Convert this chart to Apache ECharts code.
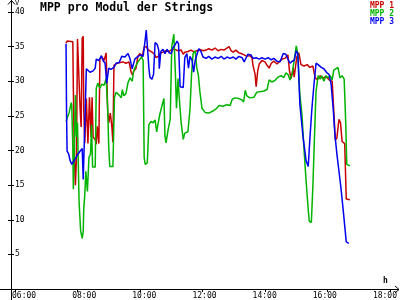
<!DOCTYPE html>
<html>
<head>
<meta charset="utf-8">
<script src="https://cdn.jsdelivr.net/npm/echarts@6/dist/echarts.min.js"></script>
<style>html,body{margin:0;padding:0;background:#fff}#c{width:400px;height:300px}</style>
</head>
<body>
<div id="c"></div>
<script>
const titleText = "MPP pro Modul der Strings";
const seriesNames = ["MPP 1", "MPP 2", "MPP 3"];
const seriesColors = ["#c80000", "#00b400", "#0000f0"];
const xTicks = [6, 8, 10, 12, 14, 16, 18];
const yTicks = [0, 5, 10, 15, 20, 25, 30, 35, 40];

const mpp1Times = ["7:38","7:40","7:51","7:52","7:54","7:56","7:58","8:00","8:03","8:05","8:07","8:09","8:11","8:12","8:14","8:17","8:20","8:23","8:26","8:28","8:30","8:34","8:36","8:38","8:41","8:43","8:47","8:51","8:55","8:58","9:00","9:03","9:06","9:08","9:10","9:16","9:22","9:27","9:33","9:39","9:43","9:46","9:48","9:52","9:56","10:00","10:04","10:08","10:12","10:15","10:19","10:23","10:27","10:31","10:35","10:38","10:44","10:50","10:56","11:01","11:07","11:13","11:19","11:23","11:26","11:32","11:38","11:44","11:49","11:55","12:01","12:07","12:12","12:18","12:24","12:30","12:36","12:41","12:47","12:51","12:55","12:59","13:04","13:10","13:14","13:20","13:25","13:31","13:35","13:37","13:41","13:43","13:46","13:49","13:54","14:00","14:04","14:08","14:12","14:17","14:23","14:27","14:33","14:38","14:44","14:47","14:50","14:54","14:56","15:01","15:05","15:09","15:15","15:21","15:26","15:32","15:36","15:40","15:46","15:51","15:57","16:03","16:09","16:12","16:15","16:18","16:22","16:25","16:28","16:33","16:36","16:43"];
const mpp1Values = [35.5,35.8,35.7,29.0,19.5,15.0,19.0,36.1,35.9,26.0,23.4,36.2,36.5,26.0,21.1,27.5,21.0,27.7,22.0,27.7,21.9,21.6,20.9,23.5,21.0,33.2,33.5,33.0,34.1,25.6,24.0,25.4,23.4,21.2,32.3,32.6,32.7,32.8,32.6,32.8,31.3,30.9,31.5,31.8,33.6,34.0,33.5,34.9,35.0,34.6,34.4,34.2,34.0,33.4,33.6,34.0,34.2,34.4,34.3,34.6,34.6,34.4,34.5,33.9,34.2,34.3,34.5,34.2,34.4,34.6,34.4,34.5,34.7,34.5,34.8,34.4,34.6,34.5,34.8,35.0,34.4,34.2,34.5,34.1,34.0,33.8,33.6,33.7,33.4,32.3,31.0,29.2,31.5,32.5,33.0,32.8,32.3,31.9,32.6,32.9,32.5,32.8,33.2,33.3,33.8,31.5,30.4,31.9,30.6,33.5,34.1,32.4,32.2,32.4,32.0,32.2,30.6,30.2,30.8,30.4,30.7,30.2,30.0,29.8,21.5,21.8,24.5,24.0,21.3,21.0,13.0,12.9];

const mpp2Times = ["7:38","7:40","7:44","7:48","7:49","7:51","7:52","7:54","7:56","7:58","8:00","8:03","8:06","8:09","8:11","8:12","8:14","8:16","8:19","8:22","8:25","8:27","8:29","8:34","8:36","8:39","8:43","8:47","8:51","8:55","8:58","9:00","9:02","9:08","9:11","9:14","9:20","9:24","9:26","9:29","9:33","9:37","9:41","9:45","9:48","9:52","9:56","10:00","10:03","10:06","10:08","10:10","10:14","10:17","10:21","10:25","10:29","10:32","10:35","10:38","10:42","10:46","10:48","10:50","10:54","10:58","11:01","11:05","11:08","11:10","11:13","11:15","11:19","11:23","11:26","11:32","11:36","11:39","11:42","11:46","11:49","11:52","11:55","11:59","12:05","12:12","12:20","12:26","12:32","12:39","12:47","12:53","12:57","13:02","13:10","13:16","13:19","13:22","13:25","13:31","13:39","13:44","13:50","13:58","14:04","14:08","14:13","14:19","14:25","14:31","14:36","14:40","14:44","14:48","14:52","14:56","15:00","15:03","15:07","15:11","15:15","15:19","15:23","15:25","15:29","15:32","15:35","15:38","15:42","15:46","15:49","15:53","15:57","16:01","16:05","16:09","16:12","16:16","16:20","16:24","16:28","16:32","16:35","16:37","16:43"];
const mpp2Values = [24.2,24.0,25.5,26.9,26.5,20.6,14.4,20.0,28.0,22.0,24.0,12.6,8.4,7.3,8.3,11.5,13.7,17.0,14.1,19.0,19.5,23.7,17.6,17.6,29.0,29.7,29.0,29.6,29.4,30.4,26.0,20.4,17.7,17.7,27.7,28.4,28.0,27.6,28.8,27.9,28.2,29.8,30.5,30.0,31.5,32.2,32.8,33.2,33.5,33.0,19.0,18.0,18.2,23.7,24.2,24.0,24.4,22.7,24.0,25.2,26.4,27.5,22.0,21.1,23.0,24.5,35.0,36.8,31.0,26.1,30.4,28.0,24.0,21.6,22.5,22.7,26.0,31.0,34.0,34.4,32.0,30.9,28.5,26.1,25.5,25.4,25.7,26.0,26.5,26.4,26.6,26.5,27.4,27.6,27.5,27.3,27.0,28.7,27.9,27.6,27.7,28.4,28.5,28.6,28.8,30.2,29.9,30.1,30.6,30.8,30.5,31.2,31.0,30.2,31.0,33.0,35.1,34.0,28.0,25.2,20.0,15.5,11.5,9.8,9.6,15.0,22.0,28.5,30.8,30.3,30.8,30.0,30.8,30.5,30.8,30.2,31.6,31.8,32.0,30.5,30.8,30.3,24.0,18.0,17.8];

const mpp3Times = ["7:38","7:39","7:40","7:43","7:46","7:49","7:55","8:01","8:09","8:11","8:13","8:17","8:20","8:24","8:30","8:34","8:36","8:41","8:46","8:49","8:53","8:56","8:58","9:00","9:04","9:10","9:14","9:20","9:25","9:31","9:37","9:41","9:45","9:48","9:50","9:56","10:02","10:06","10:10","10:12","10:15","10:17","10:19","10:23","10:26","10:29","10:33","10:36","10:37","10:40","10:44","10:48","10:52","10:56","11:00","11:03","11:07","11:11","11:14","11:17","11:23","11:26","11:30","11:33","11:36","11:40","11:43","11:46","11:49","11:53","11:57","12:01","12:07","12:12","12:18","12:24","12:30","12:36","12:41","12:47","12:53","12:59","13:04","13:10","13:16","13:20","13:24","13:27","13:33","13:37","13:43","13:49","13:54","14:00","14:06","14:12","14:17","14:23","14:29","14:35","14:40","14:44","14:48","14:52","14:56","15:00","15:03","15:07","15:13","15:19","15:23","15:26","15:30","15:34","15:38","15:42","15:48","15:53","15:59","16:03","16:07","16:11","16:14","16:18","16:22","16:26","16:30","16:34","16:36","16:41"];
const mpp3Values = [35.4,25.4,19.9,19.5,18.5,18.0,18.7,19.5,20.3,15.8,15.9,31.8,31.8,31.3,31.5,31.9,33.2,33.0,33.7,33.0,32.6,29.7,29.9,31.9,31.7,32.0,32.6,32.7,33.6,33.5,34.0,33.2,31.8,31.6,33.2,33.6,33.8,33.6,36.0,37.4,37.2,32.0,30.6,30.3,31.0,35.6,35.3,34.5,31.8,34.3,34.6,34.0,34.6,34.1,34.0,34.8,35.2,35.8,35.4,29.2,29.1,33.4,34.0,31.9,33.6,33.0,31.3,33.0,33.8,34.7,34.3,33.5,33.3,33.6,33.2,33.5,33.3,33.6,33.2,33.5,33.3,33.5,33.2,33.6,33.4,32.8,33.4,33.9,33.8,33.3,33.4,33.2,33.4,33.2,33.4,33.1,33.3,32.9,32.8,34.0,33.9,33.2,32.6,32.9,33.0,34.4,34.0,26.6,22.0,18.5,17.7,21.5,26.0,29.5,32.6,32.4,32.0,31.8,31.2,31.0,29.5,26.0,22.5,19.5,17.0,14.5,11.5,8.4,6.8,6.6];

function toHours(s) { const p = s.split(":"); return +p[0] + (+p[1]) / 60; }
function pairs(times, values) { return times.map((t, i) => [toHours(t), values[i]]); }
const seriesData = [pairs(mpp1Times, mpp1Values), pairs(mpp2Times, mpp2Values), pairs(mpp3Times, mpp3Values)];

const FONT = "DejaVu Sans Mono";
const chart = echarts.init(document.getElementById("c"), null, { renderer: "canvas" });
const xMin = xTicks[0], xMax = xTicks[xTicks.length - 1];
const yMin = yTicks[0], yMax = yTicks[yTicks.length - 1];
const fmtX = v => (v < 10 ? "0" : "") + v + ":00";

chart.setOption({
  animation: false,
  backgroundColor: "#ffffff",
  title: { text: titleText, left: 40, top: 2, padding: 0,
    textStyle: { fontFamily: FONT, fontWeight: "bold", fontSize: 11.5, color: "#000" } },
  legend: {
    orient: "vertical", right: 6, top: 2, padding: 0, itemGap: 0,
    icon: "none", itemWidth: 0, itemHeight: 7, selectedMode: false,
    textStyle: { fontFamily: FONT, fontWeight: "bold", fontSize: 8, lineHeight: 7.7, padding: [0, 0, 0, -5] },
    data: seriesNames.map((n, i) => ({ name: n, textStyle: { color: seriesColors[i] } }))
  },
  grid: [
    { left: 15, right: 10, top: 11, bottom: 11, containLabel: false },
    { left: 12, right: 13, top: 11, bottom: 11, containLabel: false }
  ],
  xAxis: [
    { type: "value", gridIndex: 0, min: xMin, max: xMax, interval: 2,
      axisLine: { show: false }, splitLine: { show: false },
      axisTick: { show: true, length: 3, lineStyle: { color: "#000" } },
      axisLabel: { show: false },
      name: "h", nameLocation: "end", nameGap: -7,
      nameTextStyle: { fontFamily: FONT, fontSize: 8, fontWeight: "bold", color: "#000", align: "left", verticalAlign: "bottom", padding: [0, 0, 4, 0] } },
    { type: "value", gridIndex: 0, min: xMin, max: xMax, interval: 2,
      axisLine: { show: false }, splitLine: { show: false },
      axisTick: { show: true, inside: true, length: 2, lineStyle: { color: "#000" } },
      axisLabel: { show: false } },
    { type: "value", gridIndex: 1, min: xMin, max: xMax, interval: 2,
      axisLine: { show: false }, splitLine: { show: false }, axisTick: { show: false },
      axisLabel: { show: true, align: "left", margin: 3, formatter: fmtX,
        fontFamily: FONT, fontSize: 8, color: "#000" } }
  ],
  yAxis: [
    { type: "value", gridIndex: 0, min: yMin, max: yMax, interval: 5, offset: 4,
      axisLine: { show: false }, splitLine: { show: false },
      axisTick: { show: true, length: 3, lineStyle: { color: "#000" } },
      axisLabel: { show: true, inside: true, margin: 4, showMinLabel: false,
        fontFamily: FONT, fontSize: 8, color: "#000" },
      name: "V", nameLocation: "end", nameGap: 5,
      nameTextStyle: { fontFamily: FONT, fontSize: 7, color: "#000", align: "left", padding: [0, 0, 0, 4] } },
    { type: "value", gridIndex: 0, min: yMin, max: yMax, interval: 5, offset: 4, position: "left",
      axisLine: { show: false }, splitLine: { show: false },
      axisTick: { show: true, inside: true, length: 3, lineStyle: { color: "#000" } },
      axisLabel: { show: false } },
    { type: "value", gridIndex: 1, min: yMin, max: yMax, show: false }
  ],
  graphic: [
    { type: "line", shape: { x1: 11.5, y1: 0, x2: 11.5, y2: 300 }, style: { stroke: "#000", lineWidth: 1 } },
    { type: "polyline", shape: { points: [[8, 4.5], [11.5, 0.5], [15, 4.5]] }, style: { stroke: "#000", fill: null, lineWidth: 1 } },
    { type: "line", shape: { x1: 0, y1: 289.5, x2: 399, y2: 289.5 }, style: { stroke: "#000", lineWidth: 1 } },
    { type: "polyline", shape: { points: [[395, 286], [399, 289.5], [395, 293]] }, style: { stroke: "#000", fill: null, lineWidth: 1 } }
  ],
  series: seriesNames.map((n, i) => ({
    name: n, type: "line", xAxisIndex: 0, yAxisIndex: 0,
    data: seriesData[i], showSymbol: false, symbol: "none",
    color: seriesColors[i],
    lineStyle: { color: seriesColors[i], width: 1.5 }
  }))
});
</script>
</body>
</html>
